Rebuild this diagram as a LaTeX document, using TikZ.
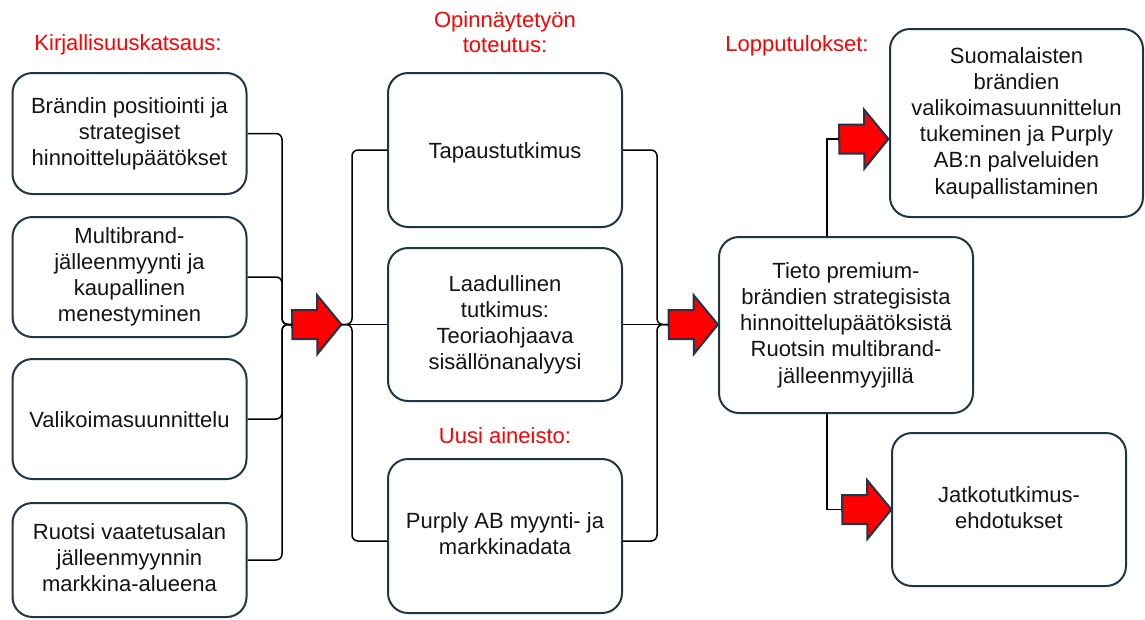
\documentclass[tikz,border=0pt]{standalone}
\usepackage{fontspec}
\setmainfont{Liberation Sans}
\usetikzlibrary{calc}

\definecolor{boxline}{RGB}{30,55,72}
\definecolor{headred}{RGB}{255,0,0}
\definecolor{txt}{RGB}{20,20,20}

\tikzset{
  box/.style={draw=boxline, line width=2pt, rounded corners=20pt, fill=white,
    inner sep=0pt, align=center, text=txt,
    font=\fontsize{22}{26}\selectfont,
    % fixed ascent/descent so that every line block is centred alike
    execute at begin node={\rule{0pt}{21.5pt}},
    execute at end node={\rule[-4.7pt]{0pt}{4.7pt}}},
  rbox/.style={box, font=\fontsize{22}{26.2}\selectfont},
  heading/.style={text=headred, align=center, inner sep=0pt,
    font=\fontsize{22}{25}\selectfont},
  conn/.style={draw=black, line width=1.5pt},
  elbow/.style={conn, rounded corners=6pt},
  arrowshape/.style={fill=headred, draw=boxline, line width=2pt, line join=miter},
}

% Block arrow: #1 name, #2 x of the tail, #3 y of the axis
\newcommand{\blockarrow}[3]{%
  \node[inner sep=0pt, minimum width=49pt, minimum height=59pt, anchor=west] (#1) at (#2,#3) {};
  \draw[arrowshape] (#1.west) ++(0,-14.5) -- ++(25,0) -- ++(0,-15) -- (#1.east)
    -- ++(-24,29.5) -- ++(0,-15) -- ++(-25,0) -- cycle;
}

\begin{document}
\begin{tikzpicture}[x=1pt, y=-1pt]
\useasboundingbox (0,0) rectangle (1145,619);

% headings
\node[heading] (h1) at (128,44.5) {Kirjallisuuskatsaus:};
\node[heading] (h2) at (505,32.5) {Opinnäytetyön\\toteutus:};
\node[heading] (h3) at (505,436) {Uusi aineisto:};
\node[heading] (h4) at (797,46) {Lopputulokset:};

% literature review
\node[box, minimum width=234pt, minimum height=121pt] (L1) at (129.5,133.5)
  {Brändin positiointi ja\\strategiset\\hinnoittelupäätökset};
\node[box, minimum width=234pt, minimum height=120pt] (L2) at (129.5,277)
  {Multibrand-\\jälleenmyynti ja\\kaupallinen\\menestyminen};
\node[box, minimum width=234pt, minimum height=120pt] (L3) at (129.5,419)
  {Valikoimasuunnittelu};
\node[box, minimum width=234pt, minimum height=114pt] (L4) at (129.5,560)
  {Ruotsi vaatetusalan\\jälleenmyynnin\\markkina-alueena};

% implementation
\node[box, minimum width=234pt, minimum height=154pt] (M1) at (505,150)
  {Tapaustutkimus};
\node[box, minimum width=234pt, minimum height=153pt] (M2) at (505,324.5)
  {Laadullinen\\tutkimus:\\Teoriaohjaava\\sisällönanalyysi};
\node[box, minimum width=234pt, minimum height=154pt] (M3) at (505,536)
  {Purply AB myynti- ja\\markkinadata};

% results
\node[rbox, minimum width=254pt, minimum height=176pt] (T) at (846,325)
  {Tieto premium-\\brändien strategisista\\hinnoittelupäätöksistä\\Ruotsin multibrand-\\jälleenmyyjillä};
\node[rbox, minimum width=253pt, minimum height=188pt] (R1) at (1016.5,123)
  {Suomalaisten\\brändien\\valikoimasuunnittelun\\tukeminen ja Purply\\AB:n palveluiden\\kaupallistaminen};
\node[rbox, minimum width=234pt, minimum height=153pt] (R2) at (1009,509.5)
  {Jatkotutkimus-\\ehdotukset};

% block arrows
\blockarrow{A1}{292}{324.5}
\blockarrow{A2}{668.5}{324.5}
\blockarrow{A3}{839}{139}
\blockarrow{A4}{842}{509.5}

% junction points of the brackets
\coordinate (jL) at (282,324.5);
\coordinate (jR) at (352,324.5);
\coordinate (jM) at (657,324.5);

% literature review into the first arrow
\draw[elbow] (L1.east) -| (jL) -- (A1.west);
\draw[elbow] (L2.east) -| (jL) -- (A1.west);
\draw[elbow] (L3.east) -| (jL) -- (A1.west);
\draw[elbow] (L4.east) -| (jL) -- (A1.west);

% first arrow out to the implementation boxes
\draw[elbow] (A1.east) -- (jR) |- (M1.west);
\draw[conn] (A1.east) -- (M2.west);
\draw[elbow] (A1.east) -- (jR) |- ($(M3.west)+(0,5)$);

% implementation boxes into the second arrow
\draw[elbow] (M1.east) -| (jM) -- (A2.west);
\draw[conn] (M2.east) -- (A2.west);
\draw[elbow] ($(M3.east)+(0,5)$) -| (jM) -- (A2.west);

% results to the final outcomes
\draw[conn] ($(T.north)+(-19,0)$) |- (A3.west);
\draw[conn] ($(T.south)+(-19,0)$) |- (A4.west);
\end{tikzpicture}
\end{document}
